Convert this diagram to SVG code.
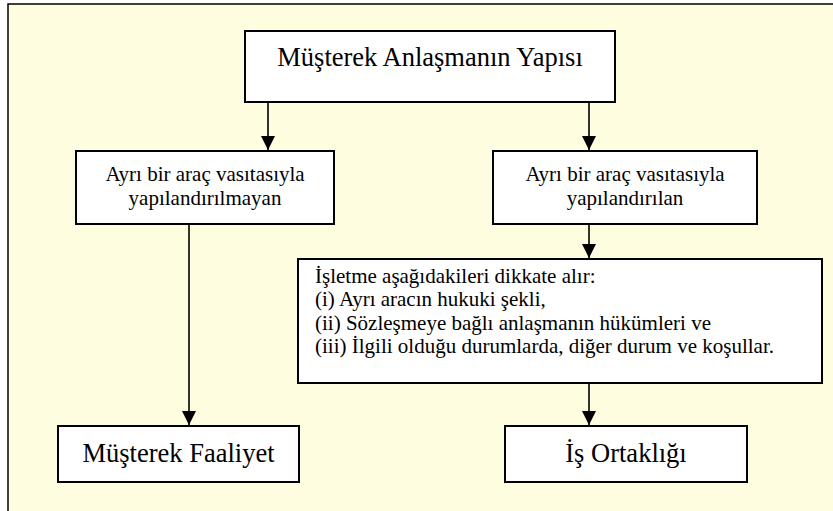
<svg xmlns="http://www.w3.org/2000/svg" width="833" height="511" viewBox="0 0 833 511">
<defs>
<marker id="ah" markerUnits="userSpaceOnUse" markerWidth="14" markerHeight="14" refX="14" refY="7" orient="auto" viewBox="0 0 14 14">
<path d="M0,0 L14,7 L0,14 Z" fill="#000"/>
</marker>
<style>
.box{fill:#fff;stroke:#000;stroke-width:2}
.big{font-size:26.5px}
.mid{font-size:21px}
.ln{stroke:#000;stroke-width:1.6;fill:none}
</style>
</defs>
<rect x="0" y="0" width="833" height="511" fill="#fff"/>
<rect x="8" y="4" width="840" height="520" fill="#FFFDE0" stroke="#000" stroke-width="1.5"/>
<g id="connectors">
<path class="ln" d="M268,102 V150" marker-end="url(#ah)"/>
<path class="ln" d="M589,102 V150" marker-end="url(#ah)"/>
<path class="ln" d="M589,224 V258" marker-end="url(#ah)"/>
<path class="ln" d="M189,224 V425" marker-end="url(#ah)"/>
<path class="ln" d="M589,383 V425" marker-end="url(#ah)"/>
</g>
<g font-family="'Liberation Serif', 'Times New Roman', 'DejaVu Serif', serif" fill="#000">
<g id="node-top">
<rect class="box" x="245" y="31" width="370" height="71"/>
<text class="big" x="430" y="66" text-anchor="middle">Müşterek Anlaşmanın Yapısı</text>
</g>
<g id="node-left">
<rect class="box" x="76" y="151" width="258" height="73"/>
<text class="mid" x="205" y="181" text-anchor="middle">Ayrı bir araç vasıtasıyla</text>
<text class="mid" x="205" y="205" text-anchor="middle">yapılandırılmayan</text>
</g>
<g id="node-right">
<rect class="box" x="493" y="151" width="264" height="73"/>
<text class="mid" x="625" y="181" text-anchor="middle">Ayrı bir araç vasıtasıyla</text>
<text class="mid" x="625" y="205" text-anchor="middle">yapılandırılan</text>
</g>
<g id="node-criteria">
<rect class="box" x="298" y="259" width="524" height="124"/>
<text class="mid" x="315" y="283">İşletme aşağıdakileri dikkate alır:</text>
<text class="mid" x="315" y="306.4">(i) Ayrı aracın hukuki şekli,</text>
<text class="mid" x="315" y="329.8">(ii) Sözleşmeye bağlı anlaşmanın hükümleri ve</text>
<text class="mid" x="315" y="353.2">(iii) İlgili olduğu durumlarda, diğer durum ve koşullar.</text>
</g>
<g id="node-joint-operation">
<rect class="box" x="58" y="426" width="241" height="56"/>
<text class="big" x="178.5" y="462" text-anchor="middle">Müşterek Faaliyet</text>
</g>
<g id="node-joint-venture">
<rect class="box" x="505" y="426" width="242" height="56"/>
<text class="big" x="626" y="462" text-anchor="middle">İş Ortaklığı</text>
</g>
</g>
</svg>
